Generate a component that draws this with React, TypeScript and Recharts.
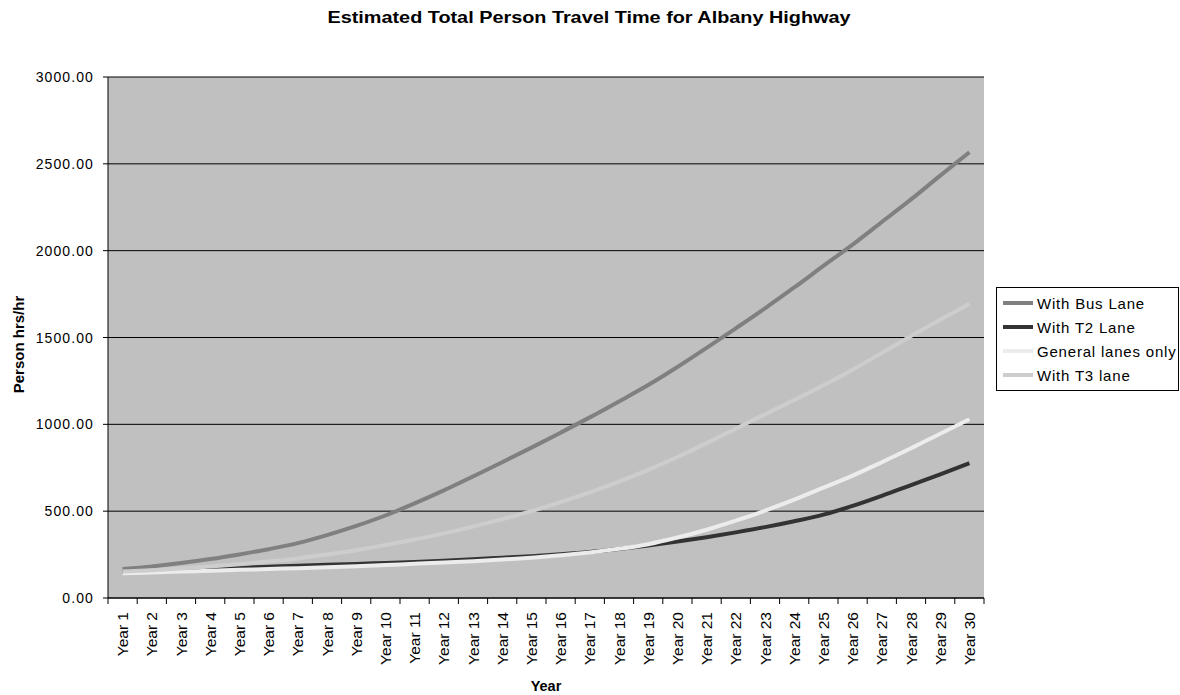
import React from "react";
import { LineChart, Line, XAxis, YAxis, CartesianGrid, Label } from "recharts";

const years = [
  "Year 1", "Year 2", "Year 3", "Year 4", "Year 5", "Year 6", "Year 7", "Year 8", "Year 9", "Year 10",
  "Year 11", "Year 12", "Year 13", "Year 14", "Year 15", "Year 16", "Year 17", "Year 18", "Year 19", "Year 20",
  "Year 21", "Year 22", "Year 23", "Year 24", "Year 25", "Year 26", "Year 27", "Year 28", "Year 29", "Year 30",
];
const busLane = [167, 182, 201, 224, 251, 281, 316, 362, 415, 475, 545, 620, 700, 782, 866, 952, 1040, 1132, 1226, 1330, 1440, 1553, 1668, 1788, 1912, 2035, 2165, 2295, 2432, 2567];
const t2Lane = [150, 156, 162, 168, 174, 180, 186, 191, 196, 202, 208, 215, 223, 232, 241, 252, 265, 282, 302, 325, 350, 378, 408, 442, 480, 530, 588, 650, 712, 776];
const generalOnly = [142, 147, 152, 157, 162, 167, 172, 177, 183, 190, 197, 204, 212, 221, 232, 246, 262, 283, 310, 348, 393, 445, 503, 566, 635, 705, 782, 862, 946, 1029];
const t3Lane = [152, 160, 170, 182, 195, 210, 228, 250, 275, 305, 337, 372, 411, 454, 500, 552, 608, 670, 738, 812, 892, 975, 1058, 1140, 1225, 1315, 1410, 1508, 1602, 1695];
const yTicks = [0, 500, 1000, 1500, 2000, 2500, 3000];

const series = [
  { key: "bus", name: "With Bus Lane", color: "#808080", width: 4 },
  { key: "t2", name: "With T2 Lane", color: "#333333", width: 4 },
  { key: "gen", name: "General lanes only", color: "#ECECEC", width: 4 },
  { key: "t3", name: "With T3 lane", color: "#CDCDCD", width: 4 },
];

const data = years.map((y, i) => ({
  year: y,
  bus: busLane[i],
  t2: t2Lane[i],
  gen: generalOnly[i],
  t3: t3Lane[i],
}));

const FONT = "Arial, 'Liberation Sans', sans-serif";

const XTick = (props: any) => {
  const { x, y, payload, index, width } = props;
  const half = payload && payload.offset ? payload.offset : width / (years.length * 2);
  const isLast = index === years.length - 1;
  return (
    <g>
      <line x1={x - half} x2={x - half} y1={y - 6} y2={y} stroke="#000" strokeWidth={1} />
      {isLast && <line x1={x + half} x2={x + half} y1={y - 6} y2={y} stroke="#000" strokeWidth={1} />}
      <text
        x={x}
        y={y + 8}
        transform={`rotate(-90, ${x}, ${y + 8})`}
        textAnchor="end"
        dy="0.36em"
        fontSize={15.5}
        fontFamily={FONT}
        fill="#000"
      >
        {payload.value}
      </text>
    </g>
  );
};

const YTick = (props: any) => {
  const { x, y, payload } = props;
  return (
    <text
      x={x}
      y={y}
      textAnchor="end"
      dy="0.36em"
      fontSize={14}
      fontFamily={FONT}
      fill="#000"
      letterSpacing={1.1}
    >
      {Number(payload.value).toFixed(2)}
    </text>
  );
};

const LegendBox = () => (
  <div
    style={{
      position: "absolute",
      left: 996,
      top: 287,
      border: "1px solid #000",
      background: "#fff",
      padding: "3px 0 3px 5px",
      fontFamily: FONT,
      fontSize: 15,
      letterSpacing: 0.8,
      boxSizing: "border-box",
      width: 183,
    }}
  >
    {series.map((s) => (
      <div key={s.key} style={{ display: "flex", alignItems: "center", height: 24 }}>
        <svg width={35} height={24} style={{ flex: "none" }}>
          <line x1={1} x2={31} y1={12} y2={12} stroke={s.color} strokeWidth={4} />
        </svg>
        <span style={{ whiteSpace: "nowrap" }}>{s.name}</span>
      </div>
    ))}
  </div>
);

export default function App() {
  return (
    <div style={{ position: "absolute", left: 0, top: 0, width: 1180, height: 695, background: "#fff" }}>
      <svg width={1180} height={40} style={{ position: "absolute", left: 0, top: 0 }}>
        <text
          x={589}
          y={23}
          textAnchor="middle"
          fontFamily={FONT}
          fontWeight="bold"
          fontSize={16}
          textLength={523}
          lengthAdjust="spacingAndGlyphs"
          fill="#000"
        >
          Estimated Total Person Travel Time for Albany Highway
        </text>
      </svg>
      <div style={{ position: "absolute", left: 0, top: 0 }}>
        <LineChart
          width={1180}
          height={695}
          data={data}
          margin={{ top: 77, right: 196, bottom: 4, left: 0 }}
        >
          <CartesianGrid vertical={false} stroke="#000" fill="#C0C0C0" fillOpacity={1} />
          <XAxis
            dataKey="year"
            scale="band"
            interval={0}
            height={93}
            tickSize={6}
            tickMargin={0}
            tickLine={false}
            axisLine={{ stroke: "#000" }}
            tick={<XTick />}
          >
            <Label
              value="Year"
              position="insideBottom"
              offset={0}
              style={{ fontFamily: FONT, fontWeight: "bold", fontSize: 14.5, fill: "#000" }}
            />
          </XAxis>
          <XAxis
            xAxisId="top"
            dataKey="year"
            scale="band"
            orientation="top"
            height={0}
            tick={false}
            tickLine={false}
            axisLine={{ stroke: "#8a8a8a", strokeWidth: 1.5 }}
          />
          <YAxis
            domain={[0, 3000]}
            ticks={yTicks}
            width={108}
            tickSize={5}
            tickMargin={9}
            axisLine={{ stroke: "#000" }}
            tickLine={{ stroke: "#000" }}
            tick={<YTick />}
            interval={0}
          >
            <Label
              content={(p: any) => {
                const vb = p.viewBox;
                const cx = vb.x + 19;
                const cy = vb.y + vb.height / 2 + 7;
                return (
                  <text
                    x={cx}
                    y={cy}
                    transform={`rotate(-90, ${cx}, ${cy})`}
                    textAnchor="middle"
                    dy="0.36em"
                    fontFamily={FONT}
                    fontWeight="bold"
                    fontSize={15}
                    fill="#000"
                  >
                    Person hrs/hr
                  </text>
                );
              }}
            />
          </YAxis>
          <YAxis
            yAxisId="right"
            orientation="right"
            width={0}
            domain={[0, 3000]}
            tick={false}
            tickLine={false}
            axisLine={{ stroke: "#8a8a8a", strokeWidth: 1.5 }}
          />
          {series.map((s) => (
            <Line
              key={s.key}
              type="monotone"
              dataKey={s.key}
              name={s.name}
              stroke={s.color}
              strokeWidth={s.width}
              dot={false}
              activeDot={false}
              isAnimationActive={false}
            />
          ))}
        </LineChart>
      </div>
      <LegendBox />
    </div>
  );
}
